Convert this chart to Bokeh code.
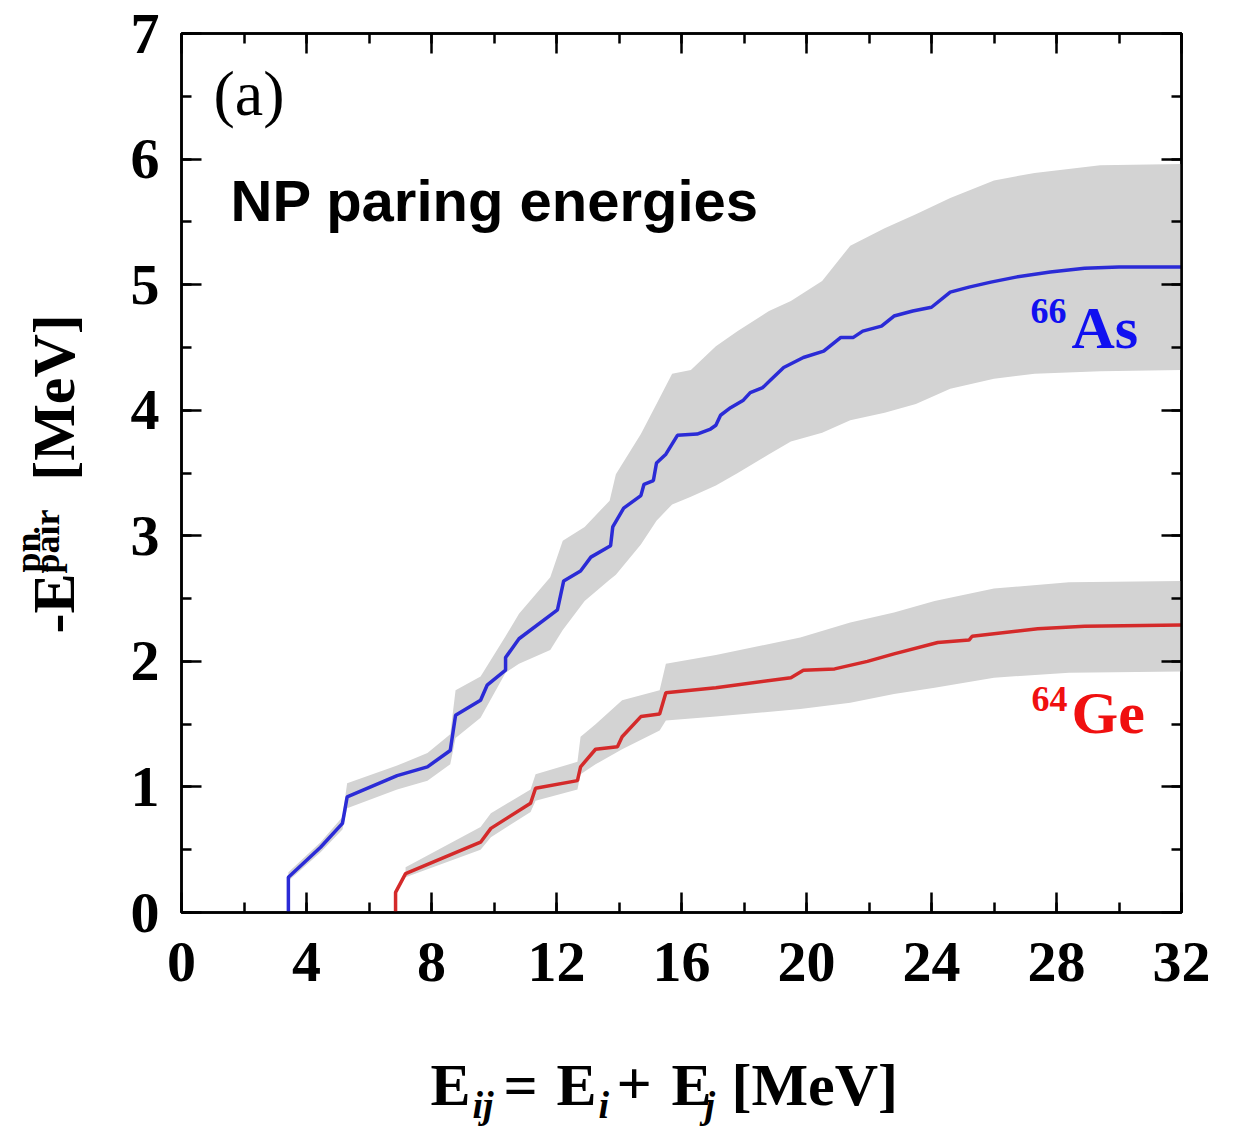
import math
from bokeh.plotting import figure
from bokeh.models import Range1d, LinearAxis, SingleIntervalTicker, Label
from bokeh.layouts import column, row
from bokeh.core.properties import value
from bokeh.embed import file_html
from bokeh.resources import INLINE

# ---------------- data ----------------
x_ticks_interval = 4
y_ticks_interval = 1

as_x = [3.42, 3.42, 4.45, 5.15, 5.3, 6.9, 7.87, 8.6, 8.77, 9.57, 9.78, 10.37, 10.37, 10.8, 12.03,
        12.23, 12.77, 13.1, 13.73, 13.8, 14.15, 14.7, 14.8, 15.1, 15.2, 15.5, 15.87, 16.5, 16.93,
        17.1, 17.25, 17.57, 17.98, 18.2, 18.6, 18.85, 19.27, 19.9, 20.55, 21.1, 21.5, 21.8, 22.4,
        22.8, 23.4, 24.0, 24.6, 25.2, 25.9, 26.7, 27.8, 28.9, 30.0, 32.0]
as_y = [0.0, 0.28, 0.52, 0.71, 0.92, 1.09, 1.16, 1.29, 1.57, 1.69, 1.81, 1.93, 2.03, 2.18, 2.41,
        2.64, 2.72, 2.83, 2.92, 3.07, 3.22, 3.32, 3.41, 3.44, 3.58, 3.65, 3.80, 3.81, 3.85,
        3.88, 3.96, 4.02, 4.08, 4.14, 4.18, 4.24, 4.34, 4.42, 4.47, 4.58, 4.58, 4.63, 4.67,
        4.75, 4.79, 4.82, 4.94, 4.98, 5.02, 5.06, 5.10, 5.13, 5.14, 5.14]

as_band_x = [3.42, 4.45, 5.15, 5.3, 6.9, 7.87, 8.6, 8.77, 9.57, 10.37, 10.8, 11.8, 12.2, 12.9,
             13.7, 13.9, 14.7, 15.2, 15.7, 16.3, 17.1, 17.8, 18.8, 19.5, 20.5, 21.4, 22.5, 23.5,
             24.6, 26.0, 27.3, 29.4, 32.0]
as_band_hi = [0.32, 0.56, 0.76, 1.03, 1.17, 1.27, 1.42, 1.77, 1.88, 2.20, 2.38, 2.67, 2.96, 3.07,
              3.28, 3.49, 3.81, 4.05, 4.29, 4.32, 4.51, 4.63, 4.79, 4.87, 5.03, 5.31, 5.45, 5.56,
              5.69, 5.83, 5.89, 5.95, 5.96]
as_band_lo = [0.25, 0.48, 0.66, 0.83, 0.98, 1.05, 1.18, 1.39, 1.55, 1.91, 1.98, 2.09, 2.25, 2.48,
              2.65, 2.69, 2.93, 3.12, 3.25, 3.31, 3.40, 3.50, 3.65, 3.75, 3.82, 3.92, 3.98, 4.05,
              4.17, 4.25, 4.29, 4.31, 4.32]

ge_x = [6.85, 6.85, 7.17, 9.57, 9.9, 11.17, 11.33, 12.67, 12.77, 13.25, 13.95, 14.1, 14.7, 15.3,
        15.5, 17.1, 19.5, 19.9, 20.9, 21.95, 22.8, 24.2, 25.2, 25.3, 27.4, 28.9, 32.0]
ge_y = [0.0, 0.16, 0.31, 0.56, 0.67, 0.87, 0.99, 1.05, 1.16, 1.30, 1.32, 1.40, 1.56, 1.58,
        1.75, 1.79, 1.87, 1.93, 1.94, 2.00, 2.06, 2.15, 2.17, 2.20, 2.26, 2.28, 2.29]

ge_band_x = [7.17, 9.57, 9.9, 11.17, 11.33, 12.67, 12.77, 13.25, 14.1, 15.3, 15.5, 17.1, 19.8,
             21.4, 22.8, 24.1, 26.0, 28.4, 32.0]
ge_band_hi = [0.36, 0.68, 0.79, 0.98, 1.10, 1.20, 1.40, 1.50, 1.69, 1.77, 1.98, 2.05, 2.19,
              2.31, 2.39, 2.48, 2.58, 2.63, 2.64]
ge_band_lo = [0.28, 0.50, 0.60, 0.80, 0.89, 0.98, 1.10, 1.18, 1.30, 1.45, 1.53, 1.56, 1.62,
              1.67, 1.74, 1.79, 1.87, 1.91, 1.92]

# ---------------- layout constants ----------------
SERIF = "Liberation Serif"
SANS = "Liberation Sans"
TOTAL_W = 1231
YL_W = 110            # width of the y-label strip
MAIN_H = 1022         # height of main figure
XL_H = 110            # height of x-label strip
FRAME_L, FRAME_T, FRAME_W, FRAME_H = 181, 33, 1000, 879
FRAME_B = FRAME_T + FRAME_H
BSHIFT = 0.34         # correction of the alphabetic baseline (fraction of font size)

# ---------------- main figure ----------------
p = figure(width=TOTAL_W - YL_W, height=MAIN_H, x_range=Range1d(0, 32), y_range=Range1d(0, 7),
           output_backend="svg", toolbar_location=None, x_axis_location=None,
           y_axis_location=None,
           min_border_left=FRAME_L - YL_W,
           min_border_right=TOTAL_W - FRAME_L - FRAME_W,
           min_border_top=FRAME_T,
           min_border_bottom=MAIN_H - FRAME_B)
p.grid.visible = False
p.outline_line_color = "black"
p.outline_line_width = 2.5
p.background_fill_color = "white"
p.border_fill_color = "white"


def make_axis(interval, show_labels, standoff):
    ax = LinearAxis(ticker=SingleIntervalTicker(interval=interval, num_minor_ticks=2))
    ax.axis_line_color = "black"
    ax.axis_line_width = 2.5
    ax.major_tick_in = 20
    ax.major_tick_out = 0
    ax.minor_tick_in = 10
    ax.minor_tick_out = 0
    ax.major_tick_line_width = 2.5
    ax.minor_tick_line_width = 2.5
    ax.major_tick_line_color = "black"
    ax.minor_tick_line_color = "black"
    if show_labels:
        ax.major_label_text_font = SERIF
        ax.major_label_text_font_style = "bold"
        ax.major_label_text_font_size = "58px"
        ax.major_label_text_color = "black"
        ax.major_label_standoff = standoff
    else:
        ax.major_label_text_font_size = "1px"
        ax.major_label_text_alpha = 0
        ax.major_label_standoff = 0
    return ax


p.add_layout(make_axis(x_ticks_interval, True, 30), "below")
p.add_layout(make_axis(y_ticks_interval, True, 22), "left")
p.add_layout(make_axis(x_ticks_interval, False, 0), "above")
p.add_layout(make_axis(y_ticks_interval, False, 0), "right")

# bands
p.varea(x=as_band_x, y1=as_band_lo, y2=as_band_hi, fill_color="#d3d3d3")
p.varea(x=ge_band_x, y1=ge_band_lo, y2=ge_band_hi, fill_color="#d3d3d3")

# lines
p.line(as_x, as_y, line_color="#2b2bd6", line_width=3.5)
p.line(ge_x, ge_y, line_color="#d42a2a", line_width=3.5)


def dx(px):
    return (px - FRAME_L) / (FRAME_W / 32)


def dy(py):
    return (FRAME_B - py) / (FRAME_H / 7)


def lab(px, base_py, text, size, color="black", font=SERIF, style="bold"):
    p.add_layout(Label(x=dx(px), y=dy(base_py - BSHIFT * size), text=text, text_font=font,
                       text_font_style=style, text_font_size=f"{size}px", text_color=color,
                       text_align="left", text_baseline="alphabetic"))


lab(213, 115, "(a)", 64, style="normal")
lab(230, 220, "NP paring energies", 58, font=SANS)
lab(1030, 323, "66", 36, color="#1010f0")
lab(1071, 348, "As", 60, color="#1010f0")
lab(1031, 711, "64", 36, color="#f01010")
lab(1071, 733, "Ge", 60, color="#f01010")

# ---------------- label strips ----------------
def strip(w, h, y0, y1):
    f = figure(width=w, height=h, x_range=Range1d(0, w), y_range=Range1d(y0, y1),
               output_backend="svg", toolbar_location=None, x_axis_location=None,
               y_axis_location=None, min_border=0)
    f.grid.visible = False
    f.outline_line_color = None
    f.background_fill_color = "white"
    f.border_fill_color = "white"
    return f


# y label strip: its frame is aligned with the main frame (page y 33..912),
# so its y range is chosen to keep a 1:1 pixel mapping (y = MAIN_H - page_y)
yl = strip(YL_W, MAIN_H, MAIN_H - FRAME_B, MAIN_H - FRAME_T)
A = math.pi / 2


def put_rot(cx, cy, text, size):
    yl.text(x=[cx], y=[MAIN_H - cy], text=[text], text_font=value(SERIF),
            text_font_style="bold", text_font_size=f"{size}px", text_color="black",
            angle=A, text_align="center", text_baseline="middle")


put_rot(53, 603, "-E", 60)
put_rot(27, 552, "pn", 36)
put_rot(46, 541, "pair", 36)
put_rot(53, 397, "[MeV]", 60)

# x label strip
xl = strip(TOTAL_W, XL_H, 0, XL_H)
TOT_H = MAIN_H + XL_H


def put(x, base_py, text, size, style="bold"):
    xl.text(x=[x], y=[TOT_H - (base_py - BSHIFT * size)], text=[text], text_font=value(SERIF),
            text_font_style=style, text_font_size=f"{size}px", text_color="black",
            text_align="left", text_baseline="alphabetic")


put(430, 1105, "E", 60)
put(472, 1117, "ij", 38, style="bold italic")
put(503, 1105, "=", 60)
put(556, 1105, "E", 60)
put(598, 1117, "i", 38, style="bold italic")
put(616, 1105, "+", 62)
put(671, 1105, "E", 60)
put(704, 1117, "j", 38, style="bold italic")
put(731, 1105, "[MeV]", 60)

layout = column(row(yl, p, spacing=0), xl, spacing=0)
open("out.html", "w").write(file_html(layout, INLINE))
